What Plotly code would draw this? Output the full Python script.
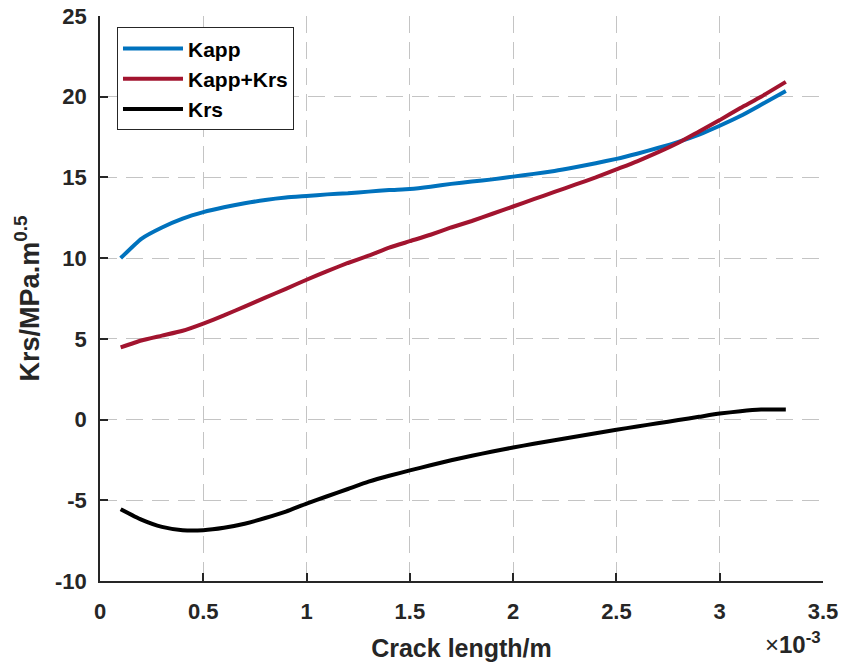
import plotly.graph_objects as go

# Crack length in units of 1e-3 m
crack_length_e3 = [0.1, 0.2, 0.3, 0.4, 0.5, 0.6, 0.7, 0.8, 0.9, 1.0,
                   1.1, 1.2, 1.3, 1.4, 1.5, 1.6, 1.7, 1.8, 1.9, 2.0,
                   2.1, 2.2, 2.3, 2.4, 2.5, 2.6, 2.7, 2.8, 2.9, 3.0,
                   3.1, 3.2, 3.32]

kapp = [10.0, 11.2, 11.9, 12.45, 12.85, 13.15, 13.4, 13.6, 13.75, 13.85,
        13.95, 14.02, 14.12, 14.22, 14.28, 14.42, 14.6, 14.75, 14.88, 15.05,
        15.22, 15.4, 15.63, 15.88, 16.15, 16.47, 16.82, 17.2, 17.65, 18.2,
        18.8, 19.5, 20.35]

kapp_krs = [4.47, 4.9, 5.2, 5.5, 5.95, 6.45, 7.0, 7.55, 8.1, 8.66,
            9.2, 9.7, 10.15, 10.65, 11.05, 11.45, 11.9, 12.3, 12.75, 13.2,
            13.65, 14.1, 14.55, 15.0, 15.5, 16.0, 16.55, 17.15, 17.85, 18.55,
            19.3, 20.0, 20.92]

krs = [-5.55, -6.2, -6.65, -6.85, -6.85, -6.7, -6.45, -6.1, -5.7, -5.2,
       -4.75, -4.3, -3.85, -3.48, -3.15, -2.83, -2.52, -2.24, -1.98, -1.73,
       -1.5, -1.28, -1.06, -0.85, -0.63, -0.43, -0.23, -0.03, 0.17, 0.37,
       0.52, 0.62, 0.62]

x_ticks = [0, 0.5, 1, 1.5, 2, 2.5, 3, 3.5]
x_tick_labels = ["0", "0.5", "1", "1.5", "2", "2.5", "3", "3.5"]
y_ticks = [-10, -5, 0, 5, 10, 15, 20, 25]
y_tick_labels = ["-10", "-5", "0", "5", "10", "15", "20", "25"]

FONT = "Liberation Sans, Arial, sans-serif"
AX = "#262626"

fig = go.Figure()
fig.add_trace(go.Scatter(x=crack_length_e3, y=kapp, mode="lines", name="<b>Kapp</b>",
                         line=dict(color="#0072BD", width=4, shape="spline", smoothing=0.5)))
fig.add_trace(go.Scatter(x=crack_length_e3, y=kapp_krs, mode="lines", name="<b>Kapp+Krs</b>",
                         line=dict(color="#A2142F", width=4, shape="spline", smoothing=0.5)))
fig.add_trace(go.Scatter(x=crack_length_e3, y=krs, mode="lines", name="<b>Krs</b>",
                         line=dict(color="#000000", width=4, shape="spline", smoothing=0.5)))

fig.update_layout(
    width=842, height=662,
    margin=dict(l=100, r=19, t=16, b=81, autoexpand=False),
    paper_bgcolor="white", plot_bgcolor="white",
    font=dict(family=FONT, color=AX),
    showlegend=True,
    legend=dict(x=0.0235, y=0.98, xanchor="left", yanchor="top",
                bgcolor="white", bordercolor=AX, borderwidth=1,
                font=dict(family=FONT, size=21, color="#000000"),
                tracegroupgap=0, itemwidth=60),
)

fig.update_xaxes(
    range=[0, 3.5], tickvals=x_ticks, ticktext=["<b>%s</b>" % t for t in x_tick_labels],
    tickfont=dict(size=22, family=FONT, color=AX),
    ticks="inside", ticklen=8, tickwidth=1.5, tickcolor=AX,
    showline=True, linecolor=AX, linewidth=1.5, mirror=False,
    showgrid=True, gridcolor="#c4c4c4", gridwidth=1, griddash="17px,9px",
    zeroline=False, ticklabelstandoff=10, automargin=False,
    title=dict(text="<b>Crack length/m</b>", font=dict(size=25, family=FONT, color=AX), standoff=16),
)
fig.update_yaxes(
    range=[-10, 25], tickvals=y_ticks, ticktext=["<b>%s</b>" % t for t in y_tick_labels],
    tickfont=dict(size=22, family=FONT, color=AX),
    ticks="inside", ticklen=8, tickwidth=1.5, tickcolor=AX,
    showline=True, linecolor=AX, linewidth=1.5, mirror=False,
    showgrid=True, gridcolor="#c4c4c4", gridwidth=1, griddash="17px,9px",
    zeroline=False, ticklabelstandoff=7, automargin=False,
    title=dict(text="<b>Krs/MPa.m<sup>0.5</sup></b>", font=dict(size=27, family=FONT, color=AX), standoff=8),
)

fig.add_annotation(
    xref="paper", yref="paper", x=1.0, y=-0.14, xanchor="right", yanchor="bottom",
    text="×<b>10<sup>-3</sup></b>", showarrow=False,
    font=dict(size=24, family=FONT, color=AX),
)

fig.write_html("out.html")
